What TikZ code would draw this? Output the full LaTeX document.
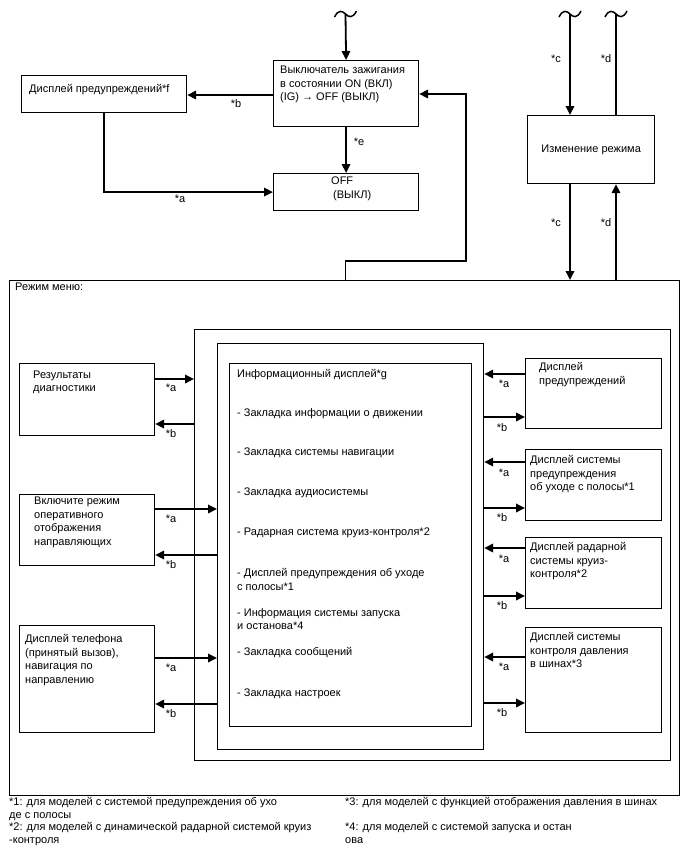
\documentclass[tikz,border=0pt]{standalone}
\usepackage{fontspec}
\setmainfont{Liberation Sans}
\usetikzlibrary{arrows.meta}
\begin{document}
\begin{tikzpicture}[x=1pt,y=-1pt,
  box/.style={draw, line width=1.2pt, anchor=north west, inner sep=0pt},
  txt/.style={anchor=base west, inner sep=0pt, align=left, font=\fontsize{11}{13.5}\selectfont},
  lbl/.style={anchor=center, inner sep=0pt, font=\fontsize{11}{12}\selectfont},
  fn/.style={anchor=base west, inner sep=0pt, align=left, font=\fontsize{11}{12.7}\selectfont},
  arr/.style={line width=1.8pt, -{Triangle[length=9pt,width=8.5pt]}},
  ln/.style={line width=1.8pt},
  tld/.style={line width=1.5pt}]
\useasboundingbox (0,0) rectangle (688,852);

% boxes: name, (x,y) top-left, width, height
\newcommand{\bx}[5]{\node[box, minimum width=#4pt, minimum height=#5pt] (#1) at (#2,#3) {};}
\bx{ign}{273}{60}{145}{66}
\bx{warn}{21}{75}{165}{37}
\bx{off}{273}{173}{145}{37}
\bx{mode}{527}{115}{127}{68}
\bx{menu}{9}{280}{670}{515}
\bx{b2}{194}{329}{476}{431}
\bx{b3}{217}{343}{266}{406}
\bx{b4}{229}{363}{242}{363}
\bx{res}{19}{363}{135}{72}
\bx{inc}{19}{494}{135}{71}
\bx{tel}{19}{625}{135}{107}
\bx{r1}{525}{358}{136}{70}
\bx{r2}{525}{449}{136}{71}
\bx{r3}{525}{537}{136}{71}
\bx{r4}{525}{627}{136}{105}

% tildes
\coordinate (t1) at (345.5,14);
\coordinate (tc) at (570,14);
\coordinate (td) at (616,14);
\foreach \c in {t1,tc,td}{
  \draw[tld] ([xshift=-11pt,yshift=-3pt]\c) .. controls ([xshift=-7pt,yshift=5pt]\c) and ([xshift=-3pt,yshift=3pt]\c) .. (\c)
     .. controls ([xshift=3pt,yshift=-3pt]\c) and ([xshift=7pt,yshift=-5pt]\c) .. ([xshift=11pt,yshift=3pt]\c);
}

% texts (anchor = baseline of the last line)
\node[txt] (tign) at (280,100.5) {Выключатель зажигания\\в состоянии ON (ВКЛ)\\(IG) → OFF (ВЫКЛ)};
\node[txt] (twarn) at (29,92.5) {Дисплей предупреждений*f};
\node[txt] (toff) at (331,198) {OFF\\\hspace{2pt}(ВЫКЛ)};
\node[anchor=center, inner sep=0pt, font=\fontsize{11}{13.5}\selectfont] (tmode) at (mode.center) {Изменение режима};
\node[txt] (tmenu) at (15,290.5) {Режим меню:};
\node[txt] (tres) at (33,391.5) {Результаты\\диагностики};
\node[txt] (tinc) at (34,545) {Включите режим\\оперативного\\отображения\\направляющих};
\node[txt] (ttel) at (25,683) {Дисплей телефона\\(принятый вызов),\\навигация по\\направлению};
\node[txt] (tr1) at (539,384) {Дисплей\\предупреждений};
\node[txt] (tr2) at (530,490.5) {Дисплей системы\\предупреждения\\об уходе с полосы*1};
\node[txt] (tr3) at (530,577.5) {Дисплей радарной\\системы круиз-\\контроля*2};
\node[txt] (tr4) at (530,667.5) {Дисплей системы\\контроля давления\\в шинах*3};
\node[txt] (i0) at (237,377.5) {Информационный дисплей*g};
\node[txt] (i1) at (237,416.5) {- Закладка информации о движении};
\node[txt] (i2) at (237,455.5) {- Закладка системы навигации};
\node[txt] (i3) at (237,495.5) {- Закладка аудиосистемы};
\node[txt] (i4) at (237,535.5) {- Радарная система круиз-контроля*2};
\node[txt] (i5) at (237,590) {- Дисплей предупреждения об уходе\\с полосы*1};
\node[txt] (i6) at (237,629.5) {- Информация системы запуска\\и останова*4};
\node[txt] (i7) at (237,655.5) {- Закладка сообщений};
\node[txt] (i8) at (237,696.5) {- Закладка настроек};

% footnotes
\node[fn] (f1) at (9,843.6) {*1: для моделей с системой предупреждения об ухо\\де с полосы\\*2: для моделей с динамической радарной системой круиз\\-контроля};
\node[fn] (f3) at (345,805.5) {*3: для моделей с функцией отображения давления в шинах};
\node[fn] (f4) at (345,843) {*4: для моделей с системой запуска и остан\\ова};

% top connectors
\draw[arr] (t1) -- (ign.north);
\draw[arr] (ign.west |- 0,95) -- (warn.east |- 0,95);
\node[lbl] at (236,104) {*b};
\draw[arr] (warn.south -| 104,0) |- (off.west);
\node[lbl] at (180,199) {*a};
\draw[arr] (ign.south) -- (off.north);
\node[lbl] at (359,142) {*e};
\draw[arr] (menu.north -| 345.5,0) -- (345.5,261) -- (466,261) -- (466,94) -- (ign.east |- 0,94);

\draw[arr] (tc) -- (mode.north -| tc);
\node[lbl] at (556,59) {*c};
\draw[ln] (mode.north -| td) -- (td);
\node[lbl] at (606,59) {*d};
\draw[arr] (mode.south -| tc) -- (menu.north -| tc);
\node[lbl] at (556,223) {*c};
\draw[arr] (menu.north -| td) -- (mode.south -| td);
\node[lbl] at (606,223) {*d};

% left connectors
\draw[arr] (res.east |- 0,379) -- (b2.west |- 0,379);
\node[lbl] at (171,388) {*a};
\draw[arr] (b2.west |- 0,424) -- (res.east |- 0,424);
\node[lbl] at (171,434) {*b};
\draw[arr] (inc.east |- 0,509) -- (b3.west |- 0,509);
\node[lbl] at (171,519) {*a};
\draw[arr] (b3.west |- 0,555) -- (inc.east |- 0,555);
\node[lbl] at (171,565) {*b};
\draw[arr] (tel.east |- 0,658) -- (b3.west |- 0,658);
\node[lbl] at (171,668) {*a};
\draw[arr] (b3.west |- 0,704) -- (tel.east |- 0,704);
\node[lbl] at (171,714) {*b};

% right connectors
\draw[arr] (r1.west |- 0,374) -- (b3.east |- 0,374);
\node[lbl] at (504,384) {*a};
\draw[arr] (b3.east |- 0,417) -- (r1.west |- 0,417);
\node[lbl] at (502,428) {*b};
\draw[arr] (r2.west |- 0,462) -- (b3.east |- 0,462);
\node[lbl] at (504,473) {*a};
\draw[arr] (b3.east |- 0,508) -- (r2.west |- 0,508);
\node[lbl] at (502,518) {*b};
\draw[arr] (r3.west |- 0,548) -- (b3.east |- 0,548);
\node[lbl] at (504,559) {*a};
\draw[arr] (b3.east |- 0,596) -- (r3.west |- 0,596);
\node[lbl] at (502,606) {*b};
\draw[arr] (r4.west |- 0,657) -- (b3.east |- 0,657);
\node[lbl] at (504,667) {*a};
\draw[arr] (b3.east |- 0,703) -- (r4.west |- 0,703);
\node[lbl] at (502,713) {*b};
\end{tikzpicture}
\end{document}
